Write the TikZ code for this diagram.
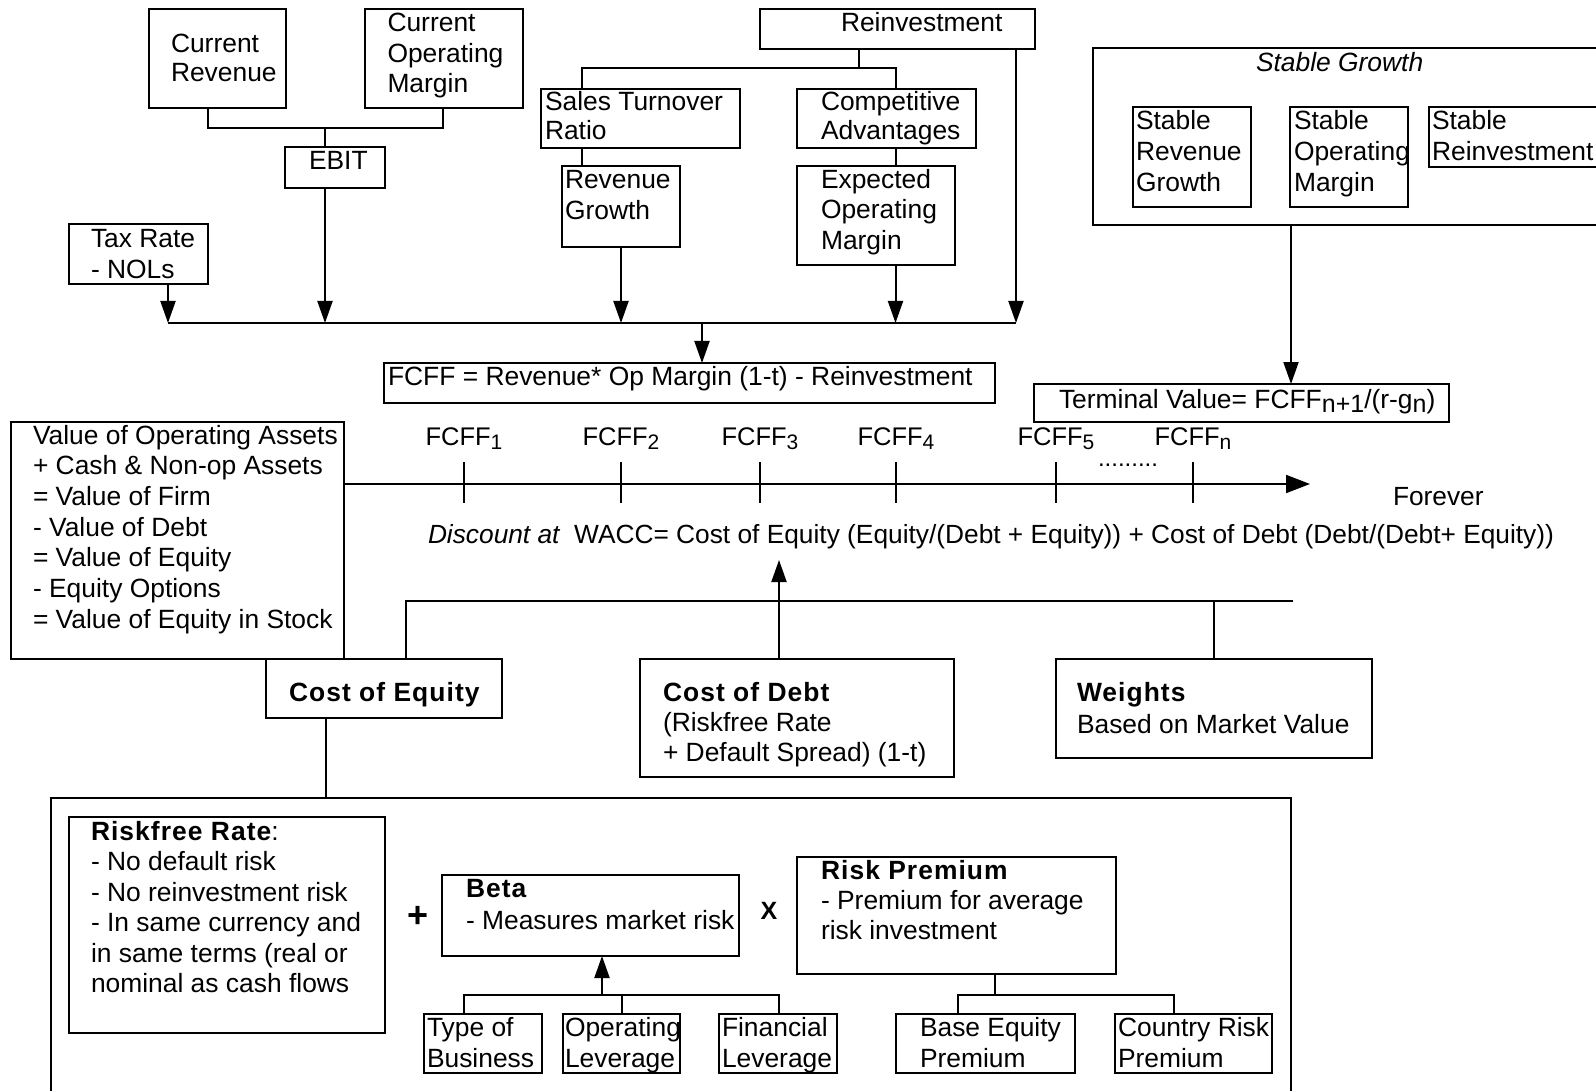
\documentclass[tikz,border=0pt]{standalone}
\usepackage{fontspec}
\setmainfont{Liberation Sans}
\usetikzlibrary{arrows.meta}

% boxed text: [baselineskip]{width}{height}{left pad}{first baseline}{lines}
\newcommand\bt[6][30.5]{\parbox[t][#3pt][t]{#2pt}{\fontsize{26.4}{#1}\selectfont\raggedright
  \leftskip=#4pt\relax\rightskip=-1000pt plus 1fil\relax\rule{0pt}{#5pt}#6}}
\newcommand\hd[1]{{\bfseries\addfontfeature{LetterSpace=4}#1}}
\newcommand\low[2][21]{\raisebox{-4pt}{\fontsize{#1}{#1}\selectfont #2}}

\begin{document}
\begin{tikzpicture}[x=1pt,y=-1pt,font=\fontsize{26.3}{30.5}\selectfont,
  box/.style={draw,line width=2pt,inner sep=0pt,outer sep=0pt,anchor=north west},
  ln/.style={line width=2pt},
  arr/.style={line width=2pt,-{Triangle[length=22pt,width=15pt]}},
  tl/.style={line width=2pt,-{Triangle[length=24pt,width=18pt]}},
  lab/.style={inner sep=0pt,outer sep=0pt}]
\useasboundingbox (0,0) rectangle (1596,1091);

% ---------- high growth inputs ----------
\node[box] (cr)   at (149,9)   {\bt[28.4]{137}{99}{22}{44}{Current\\Revenue}};
\node[box] (com)  at (365,9)   {\bt{158}{99}{22.5}{23}{Current\\Operating\\Margin}};
\node[box] (ebit) at (285,147) {\bt{100}{41}{24}{23}{EBIT}};
\node[box] (tax)  at (69,224)  {\bt{139}{60}{22}{24}{Tax Rate\\- NOLs}};
\node[box] (rei)  at (760,9)   {\bt{275}{40}{81}{23}{Reinvestment}};
\node[box] (str)  at (541,89)  {\bt[28.3]{199}{59}{4}{22}{Sales Turnover\\Ratio}};
\node[box] (ca)   at (797,89)  {\bt[28.3]{179}{59}{24}{22}{Competitive\\Advantages}};
\node[box] (rg)   at (562,166) {\bt[31.7]{118}{81}{3}{22.3}{Revenue\\Growth}};
\node[box] (eom)  at (797,166) {\bt{158}{99}{24}{22.3}{Expected\\Operating\\Margin}};

% ---------- stable growth ----------
\node[box] (sg)  at (1093,48)  {\bt{520}{177}{163}{24}{\itshape Stable Growth}};
\node[box] (srg) at (1133,107) {\bt[31]{118}{100}{3}{22.3}{Stable\\Revenue\\Growth}};
\node[box] (som) at (1290,107) {\bt[31]{118}{100}{4}{22.3}{Stable\\Operating\\Margin}};
\node[box] (sr)  at (1429,107) {\bt[31]{200}{60}{3}{22.3}{Stable\\Reinvestment}};

% ---------- cash flows ----------
\node[box] (fcff) at (384,363)  {\bt{611}{40}{4}{22}{FCFF = Revenue* Op Margin (1-t) - Reinvestment}};
\node[box] (tv)   at (1034,384) {\bt{415}{38}{25}{24}{Terminal Value= FCFF\low[25]{n+1}/(r-g\low[25]{n})}};
\node[box] (val)  at (11,422)   {\bt[30.7]{333}{237}{22}{22}{Value of Operating Assets\\+ Cash \& Non-op Assets\\= Value of Firm\\- Value of Debt\\= Value of Equity\\- Equity Options\\= Value of Equity in Stock}};

% ---------- discount rate ----------
\node[box] (coe) at (266,659)  {\bt{236}{59}{23}{42}{\hd{Cost of Equity}}};
\node[box] (cod) at (640,659)  {\bt[30]{314}{118}{23}{42}{\hd{Cost of Debt}\\(Riskfree Rate\\+ Default Spread) (1-t)}};
\node[box] (wts) at (1056,659) {\bt[32]{316}{99}{21}{42}{\hd{Weights}\\Based on Market Value}};

\node[box] (big)  at (51,798)  {\bt{1240}{320}{0}{0}{}};
\node[box] (rf)   at (69,817)  {\bt[30.5]{316}{216}{22}{23}{\hd{Riskfree Rate}:\\- No default risk\\- No reinvestment risk\\- In same currency and\\in same terms (real or\\nominal as cash flows}};
\node[box] (beta) at (442,875) {\bt[32]{297}{81}{24}{22.3}{\hd{Beta}\\- Measures market risk}};
\node[box] (rp)   at (797,857) {\bt[30]{319}{117}{24}{22.3}{\hd{Risk Premium}\\- Premium for average\\risk investment}};
\node[box] (tob)  at (424,1014)  {\bt[31.7]{118}{59}{3}{22}{Type of\\Business}};
\node[box] (opl)  at (563,1014)  {\bt[31.7]{117}{59}{2}{22}{Operating\\Leverage}};
\node[box] (fin)  at (719,1014)  {\bt[31.7]{118}{59}{3}{22}{Financial\\Leverage}};
\node[box] (bep)  at (896,1014)  {\bt[31.7]{179}{59}{24}{22}{Base Equity\\Premium}};
\node[box] (crp)  at (1115,1014) {\bt[31.7]{157}{59}{3}{22}{Country Risk\\Premium}};

\node[lab,font=\fontsize{36}{36}\selectfont\bfseries] (plus)  at (418,917) {+};
\node[lab,font=\fontsize{25}{25}\selectfont\bfseries] (times) at (769,911) {X};

% ---------- connectors: operating inputs ----------
\coordinate (j1) at (325,128);
\coordinate (busL) at (168,323);
\coordinate (busM) at (702,323);
\coordinate (busR) at (1016,323);
\coordinate (j2) at (859,68);

\draw[ln] ([xshift=-9.5]cr.south) |- (j1) -| ([xshift=-1]com.south);
\draw[ln] (j1) -- (j1 |- ebit.north);
\draw[arr] (j1 |- ebit.south) -- (j1 |- busL);
\draw[arr] (busL |- tax.south) -- (busL);
\draw[ln] (busL) -- (busR);

\draw[ln] (j2 |- rei.south) -- (j2);
\draw[ln] ([xshift=-58.5]str.north) |- (j2) -| ([xshift=9.5]ca.north);
\draw[ln] ([xshift=-58.5]str.south) -- ([xshift=-58.5]str.south |- rg.north);
\draw[ln] ([xshift=9.5]ca.south) -- ([xshift=9.5]ca.south |- eom.north);
\draw[arr] (rg.south) -- (rg.south |- busL);
\draw[arr] ([xshift=19.5]eom.south) -- ([xshift=19.5]eom.south |- busL);
\draw[arr] ([xshift=118.5]rei.south) -- (busR);
\draw[arr] (busM) -- (busM |- fcff.north);

\draw[arr] ([xshift=-62]sg.south) -- ([xshift=-62]sg.south |- tv.north);

% ---------- time line ----------
\coordinate (tlend) at (1310,484);
\draw[tl] (val.east |- tlend) -- (tlend);
\foreach \t/\s [count=\i] in {464/1,621/2,760/3,896/4,1056/5,1193/n}{
  \draw[ln] (\t,462) -- (\t,503);
  \node[lab,anchor=base,font=\fontsize{25.5}{25.5}\selectfont] (f\i) at (\t,445) {FCFF\low{\s}};
}
\node[lab,anchor=base west,font=\fontsize{24}{24}\selectfont] (dots) at (1098,466) {.........};
\node[lab,anchor=base west] (forever) at (1393,505) {Forever};
\node[lab,anchor=base west] (disc) at (428,543) {\itshape Discount at\upshape\ \ WACC= Cost of Equity (Equity/(Debt + Equity)) + Cost of Debt (Debt/(Debt+ Equity))};

% ---------- connectors: discount rate ----------
\coordinate (hj) at (1293,601);
\draw[ln] ([xshift=22]coe.north) |- (hj);
\draw[ln] (wts.north) -- (wts.north |- hj);
\draw[arr] ([xshift=-18]cod.north) -- ([xshift=-18]cod.north |- 0,560);
\draw[ln] ([xshift=-58]coe.south) -- ([xshift=-58]coe.south |- big.north);

\coordinate (bj) at (602,995);
\draw[ln] ([xshift=-19]tob.north) |- ([xshift=1]fin.north |- bj) -- ([xshift=1]fin.north);
\draw[ln] (opl.north) -- (opl.north |- bj);
\draw[arr] (bj) -- (bj |- beta.south);

\coordinate (rj) at (995,995);
\draw[ln] ([xshift=38.5]rp.south) -- (rj);
\draw[ln] ([xshift=-27.5]bep.north) |- (rj) -| ([xshift=-19.5]crp.north);
\end{tikzpicture}
\end{document}
